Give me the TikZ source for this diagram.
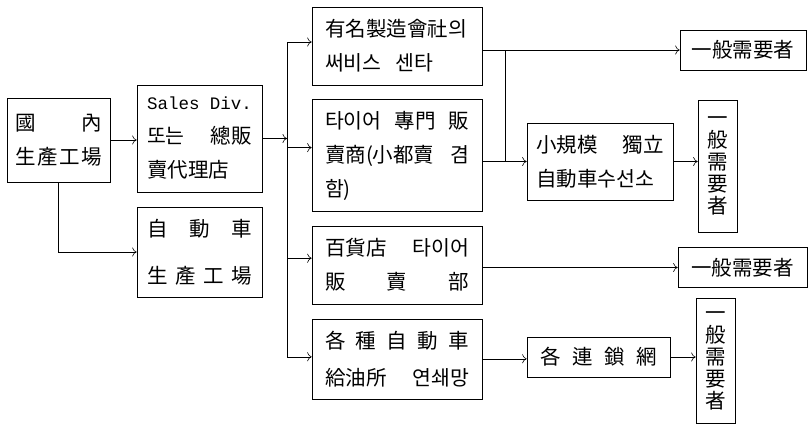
\documentclass[tikz,border=0pt]{standalone}
\usepackage{fontspec}
\setmainfont{Noto Sans CJK KR}
\newfontfamily\monofont{Liberation Mono}
\usepackage{tikz}
\usetikzlibrary{arrows.meta,chains,positioning}
\newcommand{\kfont}{\fontsize{20.5}{34}\selectfont}
\newcommand{\vfont}{\fontsize{20.5}{22}\selectfont}
\tikzstyle{box}=[draw,inner ysep=0pt,align=left,font=\kfont]
\tikzstyle{outlet}=[box,text width=144pt,inner xsep=13pt]
\tikzstyle{uservert}=[box,align=center,text width=21pt,inner xsep=9pt,font=\vfont]
\tikzstyle{userhor}=[box,align=center,minimum height=40pt]

\begin{document}
\begin{tikzpicture}[x=1pt,y=-1pt,>={To[length=4.5pt,width=9pt]},line width=0.6pt]
\useasboundingbox (0,0) rectangle (808,429);
\node [box,text width=87pt,inner xsep=8pt,minimum height=84pt] (plant) at (58.5,140) {國\hfill 內\\生\hfill 產\hfill 工\hfill 場};
\node [box,text width=105pt,inner xsep=10pt,minimum height=107pt] (sales) at (199.5,138.5)
    {{\monofont\fontsize{17.5}{34}\selectfont Sales\hfill Div.}\\또는\hfill 總販\\賣代理店};
\node [box,text width=105pt,inner xsep=10pt,minimum height=90pt] (carmaker) at (199.5,252)
    {自\hfill 動\hfill 車\\[13pt]生\hfill 產\hfill 工\hfill 場};
\begin{scope}[start chain=col going below,node distance=14pt]
    \node [on chain=col,outlet,minimum height=78pt] (service) at (397,46) {有名製造會社의\\써비스\hspace{14pt}센타};
    \node [on chain=col,outlet,minimum height=112pt] (tire) {타이어\hfill 專門\hfill 販\\賣商(小都賣\hfill 겸\\함)};
    \node [on chain=col,outlet,minimum height=78pt] (dept) {百貨店\hfill 타이어\\販\hfill 賣\hfill 部};
    \node [on chain=col,outlet,minimum height=80pt] (station) {各\hfill 種\hfill 自\hfill 動\hfill 車\\[3pt]給油所\hfill 연쇄망};
\end{scope}
\node [box,text width=128pt,inner xsep=9pt,minimum height=77pt] (repair) at (600,161.5) {小規模\hfill 獨立\\自動車수선소};
\node [box,text width=117pt,inner xsep=13pt,minimum height=40pt] (network) at (598.5,357) {各\hfill 連\hfill 鎖\hfill 網};
\node [userhor,minimum width=126pt] (user1) at (743,50) {一般需要者};
\node [uservert,minimum height=132pt] (user2) at (717.5,166) {一\\般\\需\\要\\者};
\node [userhor,minimum width=129pt] (user3) at (742.5,267.5) {一般需要者};
\node [uservert,minimum height=125pt] (user4) at (715.5,360.5) {一\\般\\需\\要\\者};
\coordinate (trunk) at (287,0);
\coordinate (fork) at (505,0);
\draw[->] (plant.east) -- (plant.east -| sales.west);
\draw[->] (plant.south) |- (carmaker.west);
\draw[->] (sales.east) -- (sales.east -| trunk);
\draw ([yshift=4pt]service.west -| trunk) -- ([yshift=2pt]station.west -| trunk);
\foreach \n/\s in {service/4,tire/8,dept/7,station/2}
    \draw[->] ([yshift=\s pt]\n.west -| trunk) -- ([yshift=\s pt]\n.west);
\draw[->] (service.east |- user1.west) -- (user1.west);
\draw (fork |- user1.west) -- (fork |- repair.west);
\draw[->] (tire.east |- repair.west) -- (repair.west);
\draw[->] (repair.east) -- (repair.east -| user2.west);
\draw[->] (dept.east |- user3.west) -- (user3.west);
\draw[->] (station.east) -- (station.east -| network.west);
\draw[->] (network.east) -- (network.east -| user4.west);
\end{tikzpicture}
\end{document}
